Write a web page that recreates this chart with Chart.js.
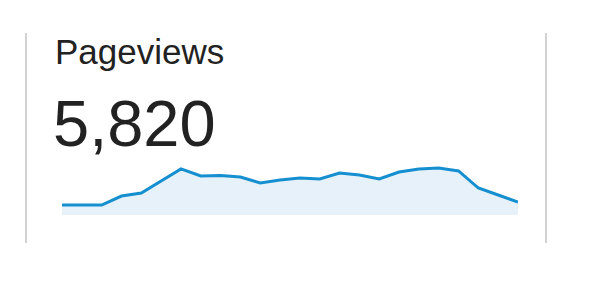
<!DOCTYPE html>
<html>
<head>
<meta charset="utf-8">
<script src="https://cdn.jsdelivr.net/npm/chart.js@4.4.0/dist/chart.umd.min.js"></script>
<style>
  html, body { margin: 0; padding: 0; background: #fff; }
  body { width: 600px; height: 290px; position: relative; overflow: hidden; font-family: "Liberation Sans", Arial, sans-serif; }
  .vline { position: absolute; top: 33px; height: 210px; width: 2px; background: #d2d2d2; }
  #title { position: absolute; left: 55px; top: 32px; font-size: 35px; line-height: 40px; color: #222; white-space: nowrap; }
  #value { position: absolute; left: 53px; top: 87px; font-size: 65px; line-height: 74px; color: #222; white-space: nowrap; }
  #wrap { position: absolute; left: 62px; top: 150px; width: 456px; height: 65px; }
</style>
</head>
<body>
<div class="vline" style="left:25px"></div>
<div class="vline" style="left:545px"></div>
<div id="title"></div>
<div id="value"></div>
<div id="wrap"><canvas id="c" width="456" height="65"></canvas></div>
<script>
const metricName = "Pageviews";
const metricTotal = "5,820";
const hours = ["0","1","2","3","4","5","6","7","8","9","10","11","12","13","14","15","16","17","18","19","20","21","22","23"];
const pageviews = [76, 76, 76, 144, 167, 259, 350, 297, 300, 289, 243, 266, 281, 274, 319, 304, 274, 327, 350, 357, 335, 205, 152, 99];
const yMin = 0;
const yMax = 494;

document.getElementById('title').textContent = metricName;
document.getElementById('value').textContent = metricTotal;

new Chart(document.getElementById('c'), {
  type: 'line',
  data: {
    labels: hours,
    datasets: [{
      data: pageviews,
      borderColor: '#158fd0',
      backgroundColor: '#e6f1fa',
      borderWidth: 3,
      fill: 'origin',
      tension: 0,
      pointRadius: 0,
      pointHoverRadius: 0,
      clip: false
    }]
  },
  options: {
    responsive: false,
    animation: false,
    layout: { padding: 0 },
    plugins: { legend: { display: false }, tooltip: { enabled: false } },
    scales: {
      x: { display: false, offset: false },
      y: { display: false, min: yMin, max: yMax }
    }
  }
});
</script>
</body>
</html>
